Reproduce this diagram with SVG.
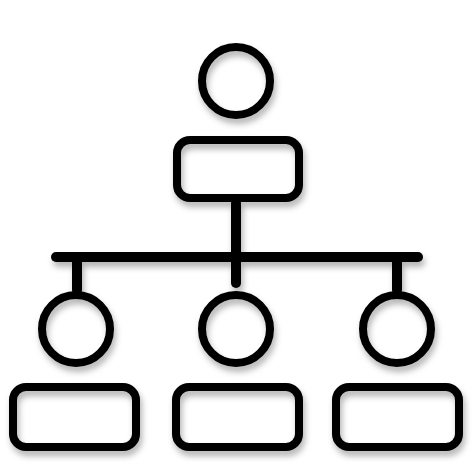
<svg xmlns="http://www.w3.org/2000/svg" width="474" height="474" viewBox="0 0 474 474">
<defs>
<filter id="sh" x="-20%" y="-20%" width="140%" height="160%">
<feDropShadow dx="2" dy="5" stdDeviation="3" flood-color="#000" flood-opacity="0.3"/>
</filter>
<style>
.s{fill:none;stroke:#000;stroke-width:8;stroke-linecap:round}
.b{fill:none;stroke:#000;stroke-width:10;stroke-linecap:round}
</style>
</defs>
<rect width="474" height="474" fill="#fff"/>
<g filter="url(#sh)">
<g id="connectors">
<line class="b" x1="56" y1="257" x2="418" y2="257"/>
<line class="b" x1="236" y1="203" x2="236" y2="283"/>
<line class="b" x1="77" y1="257" x2="77" y2="290"/>
<line class="b" x1="397" y1="257" x2="397" y2="290"/>
</g>
<g id="top">
<circle class="s" cx="236" cy="81" r="34"/>
<rect class="s" x="177" y="140" width="122" height="58" rx="13"/>
</g>
<g id="left">
<circle class="s" cx="76" cy="329" r="34"/>
<rect class="s" x="13" y="387" width="123" height="60" rx="13"/>
</g>
<g id="middle">
<circle class="s" cx="236" cy="329" r="34"/>
<rect class="s" x="176" y="387" width="123" height="60" rx="13"/>
</g>
<g id="right">
<circle class="s" cx="397" cy="329" r="34"/>
<rect class="s" x="336" y="387" width="123" height="60" rx="13"/>
</g>
</g>
</svg>
